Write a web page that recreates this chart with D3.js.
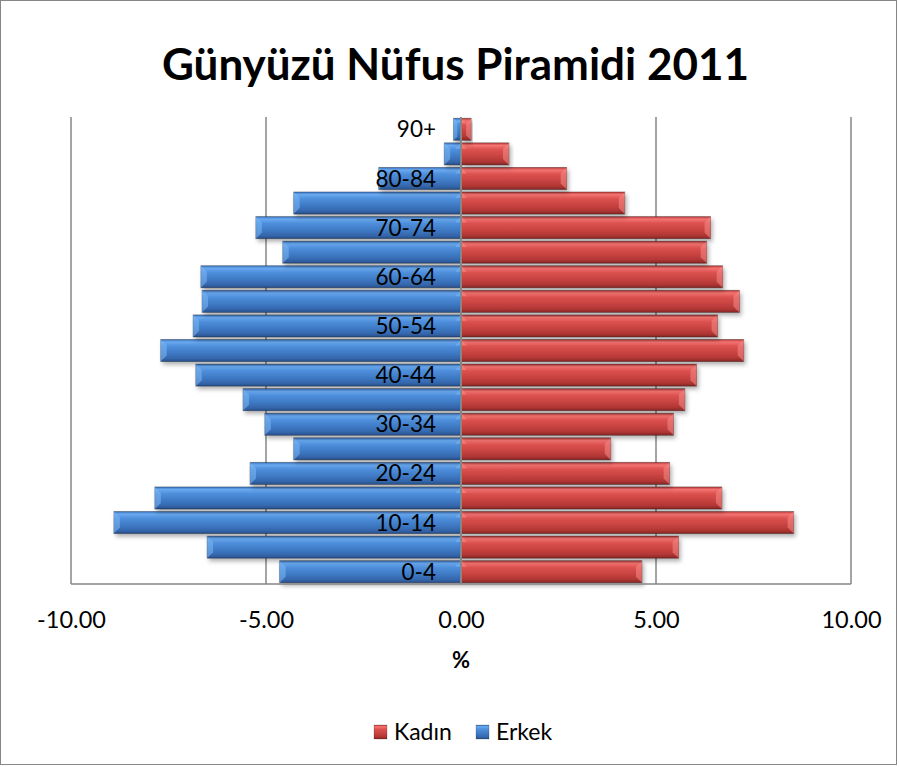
<!DOCTYPE html>
<html>
<head>
<meta charset="utf-8">
<script src="https://cdn.jsdelivr.net/npm/d3@7"></script>
<style>
  body { margin: 0; background: #fff; }
  svg text { font-family: Lato, "Open Sans", sans-serif; fill: #000; }
</style>
</head>
<body>
<div id="chart"></div>
<script>
// age groups, bottom to top
var ageGroups = ["0-4", "5-9", "10-14", "15-19", "20-24", "25-29", "30-34", "35-39", "40-44",
  "45-49", "50-54", "55-59", "60-64", "65-69", "70-74", "75-79", "80-84", "85-89", "90+"];
// Erkek (men) drawn to the left as negative %
var erkek = [-4.65, -6.51, -8.90, -7.85, -5.41, -4.29, -5.03, -5.59, -6.80,
  -7.70, -6.87, -6.64, -6.67, -4.57, -5.26, -4.29, -2.11, -0.43, -0.19];
// Kadın (women)
var kadin = [4.64, 5.58, 8.53, 6.69, 5.35, 3.84, 5.45, 5.74, 6.04,
  7.25, 6.58, 7.14, 6.71, 6.30, 6.40, 4.20, 2.71, 1.23, 0.26];
var xTicks = [-10, -5, 0, 5, 10];
var shownLabels = ["0-4", "10-14", "20-24", "30-34", "40-44", "50-54", "60-64", "70-74", "80-84", "90+"];

var W = 899, H = 767;
var margin = { top: 117, right: 48, bottom: 183, left: 71 };

var svg = d3.select("#chart").append("svg")
  .attr("width", W)
  .attr("height", H);

var defs = svg.append("defs");
function grad(id, stops) {
  var g = defs.append("linearGradient").attr("id", id)
    .attr("x1", 0).attr("y1", 0).attr("x2", 0).attr("y2", 1);
  stops.forEach(function(s) {
    g.append("stop").attr("offset", s[0]).attr("stop-color", s[1]);
  });
}
grad("blueGrad", [[0, "#3a72bd"], [0.12, "#6aaaf0"], [0.3, "#4f8fdc"], [0.6, "#3f7bc6"], [0.85, "#3567ad"], [1, "#274f8a"]]);
grad("redGrad", [[0, "#b83a38"], [0.12, "#f47472"], [0.3, "#dc5250"], [0.6, "#c84341"], [0.85, "#b03634"], [1, "#852624"]]);

var shadow = defs.append("filter").attr("id", "shadow")
  .attr("x", "-10%").attr("y", "-30%").attr("width", "120%").attr("height", "180%");
shadow.append("feDropShadow").attr("dx", 2).attr("dy", 3).attr("stdDeviation", 2)
  .attr("flood-color", "#000").attr("flood-opacity", 0.3);

// chart border
svg.append("rect")
  .attr("x", 0.5).attr("y", 0.5)
  .attr("width", W - 3).attr("height", H - 3)
  .attr("fill", "#fff")
  .attr("stroke", "#868686");

var x = d3.scaleLinear()
  .domain([-10, 10])
  .range([margin.left, W - margin.right]);

var y = d3.scaleBand()
  .domain(ageGroups)
  .range([H - margin.bottom, margin.top])
  .paddingInner(0.1)
  .paddingOuter(0.05);

// gridlines
svg.append("g")
  .selectAll("line")
  .data(xTicks.filter(function(d) { return d !== 0; }))
  .enter().append("line")
  .attr("x1", function(d) { return x(d); })
  .attr("x2", function(d) { return x(d); })
  .attr("y1", margin.top)
  .attr("y2", H - margin.bottom)
  .attr("stroke", "#868686")
  .attr("stroke-width", 1.5);

var rows = ageGroups.map(function(a, i) {
  return { age: a, erkek: erkek[i], kadin: kadin[i] };
});

function drawBars(key, fill, light) {
  var g = svg.append("g");
  var bars = g.selectAll("g")
    .data(rows)
    .enter().append("g");

  bars.append("rect")
    .attr("x", function(d) { return Math.min(x(0), x(d[key])); })
    .attr("y", function(d) { return y(d.age); })
    .attr("width", function(d) { return Math.abs(x(d[key]) - x(0)); })
    .attr("height", y.bandwidth())
    .attr("fill", fill)
    .attr("stroke", "rgba(0,0,0,0.35)")
    .attr("stroke-width", 0.8)
    .attr("filter", "url(#shadow)");

  // beveled end highlight
  bars.append("path")
    .attr("d", function(d) {
      var x0 = x(0), x1 = x(d[key]);
      var dir = x1 < x0 ? 1 : -1;
      var t = y(d.age), b = t + y.bandwidth();
      var bev = Math.min(6, Math.abs(x1 - x0) / 2);
      return "M" + x1 + "," + t + "L" + (x1 + dir * bev) + "," + (t + bev) +
        "L" + (x1 + dir * bev) + "," + (b - bev) + "L" + x1 + "," + b + "Z";
    })
    .attr("fill", light)
    .attr("opacity", 0.55);

  bars.append("path")
    .attr("d", function(d) {
      var x0 = x(0), x1 = x(d[key]);
      var dir = x1 < x0 ? 1 : -1;
      var t = y(d.age);
      var bev = Math.min(6, Math.abs(x1 - x0) / 2);
      return "M" + x0 + "," + t + "L" + (x0 - dir * bev) + "," + (t + bev) +
        "L" + x0 + "," + (t + bev) + "Z";
    })
    .attr("fill", light)
    .attr("opacity", 0.6);
}

drawBars("erkek", "url(#blueGrad)", "#7bb8f5");
drawBars("kadin", "url(#redGrad)", "#f58a88");

// zero line
svg.append("line")
  .attr("x1", x(0)).attr("x2", x(0))
  .attr("y1", margin.top).attr("y2", H - margin.bottom)
  .attr("stroke", "#868686")
  .attr("stroke-width", 2);

// bottom axis line
svg.append("line")
  .attr("x1", x(-10)).attr("x2", x(10))
  .attr("y1", H - margin.bottom).attr("y2", H - margin.bottom)
  .attr("stroke", "#868686")
  .attr("stroke-width", 1.5);

// category labels
svg.append("g")
  .selectAll("text")
  .data(shownLabels)
  .enter().append("text")
  .attr("x", x(0) - 25)
  .attr("y", function(d) { return y(d) + y.bandwidth() / 2; })
  .attr("dy", "0.36em")
  .attr("text-anchor", "end")
  .style("font-size", "22.5px")
  .text(function(d) { return d; });

// x axis
var fmt = d3.format(".2f");
var xAxis = svg.append("g")
  .attr("transform", "translate(0," + (H - margin.bottom) + ")")
  .call(d3.axisBottom(x)
    .tickValues(xTicks)
    .tickFormat(function(d) { return fmt(d).replace("\u2212", "-"); })
    .tickSize(0)
    .tickPadding(27));
xAxis.select(".domain").remove();
xAxis.selectAll("text")
  .style("font-family", "Lato, sans-serif")
  .style("font-size", "23.5px")
  .attr("fill", "#000");

svg.append("text")
  .attr("x", x(0))
  .attr("y", 668)
  .attr("text-anchor", "middle")
  .style("font-size", "22px")
  .style("font-weight", "bold")
  .text("%");

// title
svg.append("text")
  .attr("x", W / 2 + 6)
  .attr("y", 80)
  .attr("text-anchor", "middle")
  .style("font-size", "44px")
  .style("font-weight", "bold")
  .text("Günyüzü Nüfus Piramidi 2011");

// legend
var legend = [
  { name: "Kadın", fill: "url(#redGrad)", x: 374 },
  { name: "Erkek", fill: "url(#blueGrad)", x: 476 }
];
var lg = svg.append("g").selectAll("g")
  .data(legend)
  .enter().append("g")
  .attr("transform", function(d) { return "translate(" + d.x + ",725)"; });
lg.append("rect")
  .attr("width", 13).attr("height", 14)
  .attr("fill", function(d) { return d.fill; })
  .attr("stroke", "rgba(0,0,0,0.3)")
  .attr("stroke-width", 0.6);
lg.append("text")
  .attr("x", 20)
  .attr("y", 7)
  .attr("dy", "0.36em")
  .style("font-size", "23px")
  .text(function(d) { return d.name; });
</script>
</body>
</html>
